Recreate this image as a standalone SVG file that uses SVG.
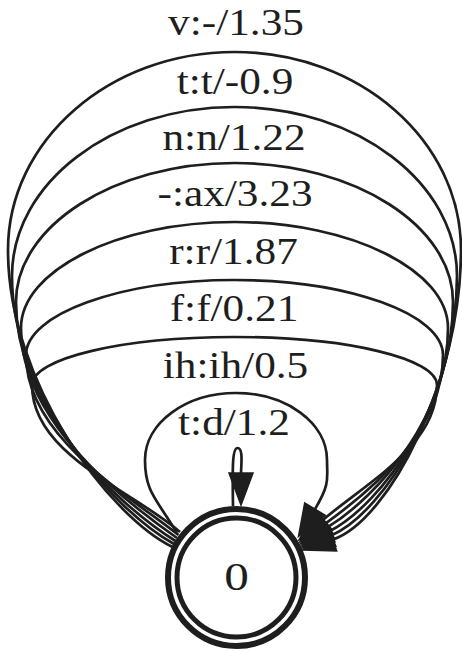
<svg xmlns="http://www.w3.org/2000/svg" width="462" height="652" viewBox="0 0 462 652">
<style>
.e{fill:none;stroke:#1e1e1e;stroke-width:2.7}
.a{fill:#1e1e1e;stroke:#1e1e1e;stroke-width:1.5;stroke-linejoin:miter}
.n{fill:none;stroke:#1e1e1e}
.t{font-family:"Liberation Serif","Times New Roman",serif;font-size:37px;fill:#1e1e1e;text-anchor:middle}
.nt{font-family:"Liberation Serif","Times New Roman",serif;font-size:41px;fill:#1e1e1e;text-anchor:middle}
</style>
<rect width="462" height="652" fill="#ffffff"/>
<g id="edges">
<g id="e-td"><path class="e" d="M233,506 C232.5,470 232,448 237.5,448 C243,448 241.5,462 241,473"/><polygon class="a" points="229,473 253,473 241,505"/></g>
<g id="e-ih"><path class="e" d="M177,533 C156.4,498.7 145,492 145,460 C145,423 185.8,393 236,393 C286.2,393 327,423 327,460 C327,478 330.5,483.4 315,509.1"/><polygon class="a" points="298.5,536.5 325.3,515.3 304.7,502.9"/></g>
<g id="e-ff"><path class="e" d="M180,532 C132,490 32,455 32,385 C32,358.5 121.6,337 234.5,337 C347.4,337 437,358.5 437,385 C437,445 369.5,480.8 323.5,519.4"/><polygon class="a" points="299,540 331.2,528.6 315.8,510.2"/></g>
<g id="e-rr"><path class="e" d="M178.5,535 C123.3,491.9 26,435 26,355 C26,314.5 119.4,280 234.5,280 C349.6,280 443,314.5 443,355 C443,430 374.4,488.2 325.7,523.3"/><polygon class="a" points="299.7,542 332.7,533 318.7,513.6"/></g>
<g id="e-ax"><path class="e" d="M177,538 C119.7,497.8 21,420 21,328 C21,270.5 117.2,222 234.5,222 C351.8,222 448,270.5 448,328 C448,415 378.8,495.8 327.7,527.2"/><polygon class="a" points="300.4,544 334,537.4 321.4,517"/></g>
<g id="e-nn"><path class="e" d="M175.5,541 C116.1,503.9 16,408 16,302 C16,226 114.4,163 234.5,163 C354.6,163 453,226 453,302 C453,404 382.8,503.7 329.5,531.3"/><polygon class="a" points="301.1,546 335,542 324,520.6"/></g>
<g id="e-tt"><path class="e" d="M174,544 C112.8,510 12,396 12,276 C12,183 111.7,107 234.5,107 C357.3,107 457,183 457,276 C457,392 386.3,511.8 331.2,535.4"/><polygon class="a" points="301.8,548 335.9,546.4 326.5,524.4"/></g>
<g id="e-v"><path class="e" d="M172.5,547 C109.6,516.3 8,383.6 8,250 C8,140.7 109.5,52 234.5,52 C359.5,52 461,140.7 461,250 C461,380.3 389.6,520.1 332.8,539.6"/><polygon class="a" points="302.5,550 336.7,550.9 328.9,528.3"/></g>
</g>
<g id="labels">
<text class="t" transform="translate(236,35) scale(1.17,1)">v:-/1.35</text>
<text class="t" transform="translate(235,94) scale(1.17,1)">t:t/-0.9</text>
<text class="t" transform="translate(234,150) scale(1.17,1)">n:n/1.22</text>
<text class="t" transform="translate(235,206) scale(1.17,1)">-:ax/3.23</text>
<text class="t" transform="translate(233.5,264) scale(1.17,1)">r:r/1.87</text>
<text class="t" transform="translate(234,321) scale(1.17,1)">f:f/0.21</text>
<text class="t" transform="translate(235.5,378) scale(1.17,1)">ih:ih/0.5</text>
<text class="t" transform="translate(234,435) scale(1.17,1)">t:d/1.2</text>
</g>
<g id="node-0">
<circle class="n" cx="236.5" cy="577.5" r="68.5" stroke-width="6"/>
<circle class="n" cx="236.5" cy="577.5" r="59.5" stroke-width="5"/>
<text class="nt" transform="translate(236.5,590) scale(1.2,1)">0</text>
</g>
</svg>
